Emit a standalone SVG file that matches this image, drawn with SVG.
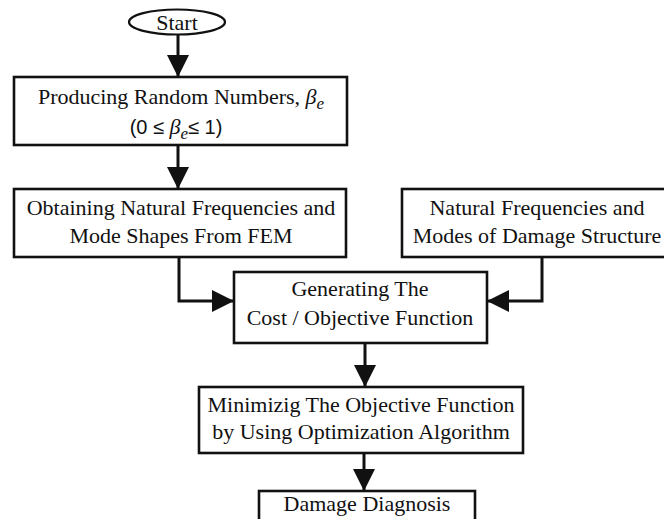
<svg xmlns="http://www.w3.org/2000/svg" width="664" height="519" viewBox="0 0 664 519">
<style>
.box{fill:#fff;stroke:#111;stroke-width:2.6}
.t{font-family:"Liberation Serif","Times New Roman",serif;font-size:22px;fill:#111;text-anchor:middle}
.s{font-family:"Liberation Sans",Arial,sans-serif}
.i{font-style:italic}
.c{fill:none;stroke:#111;stroke-width:3}
</style>
<defs>
<marker id="ah" viewBox="0 0 22 22" refX="22" refY="11" markerWidth="22" markerHeight="22" markerUnits="userSpaceOnUse" orient="auto">
<path d="M0,0 L22,11 L0,22 z" fill="#111"/>
</marker>
</defs>
<rect width="664" height="519" fill="#fff"/>
<g id="connectors">
<path class="c" d="M178,35 L178,77" marker-end="url(#ah)"/>
<path class="c" d="M178,145 L178,189" marker-end="url(#ah)"/>
<path class="c" d="M179,257 L179,301 L234,301" marker-end="url(#ah)"/>
<path class="c" d="M542,257 L542,301 L487,301" marker-end="url(#ah)"/>
<path class="c" d="M365,343 L365,387" marker-end="url(#ah)"/>
<path class="c" d="M364,453 L364,491" marker-end="url(#ah)"/>
</g>
<g id="start">
<ellipse cx="177" cy="22" rx="48" ry="12.5" fill="#fff" stroke="#111" stroke-width="2.2"/>
<text class="t" x="177" y="30">Start</text>
</g>
<g id="random">
<rect class="box" x="14" y="77" width="333" height="68"/>
<text class="t" x="181" y="104">Producing Random Numbers, <tspan class="i">β</tspan><tspan class="i" font-size="17" dy="5">e</tspan></text>
<text class="t" x="176" y="134"><tspan class="s" font-size="20">(0 ≤ </tspan><tspan class="i">β</tspan><tspan class="i" font-size="17" dy="5">e</tspan><tspan class="s" font-size="20" dy="-5">≤ 1)</tspan></text>
</g>
<g id="fem">
<rect class="box" x="14" y="189" width="332" height="68"/>
<text class="t" x="181" y="215">Obtaining Natural Frequencies and</text>
<text class="t" x="181" y="243">Mode Shapes From FEM</text>
</g>
<g id="damage-modes">
<rect class="box" x="402" y="189" width="280" height="68"/>
<text class="t" x="537" y="215">Natural Frequencies and</text>
<text class="t" x="537" y="243">Modes of Damage Structure</text>
</g>
<g id="cost">
<rect class="box" x="234" y="272" width="253" height="71"/>
<text class="t" x="360" y="296">Generating The</text>
<text class="t" x="360" y="325">Cost / Objective Function</text>
</g>
<g id="minimize">
<rect class="box" x="199" y="387" width="324" height="66"/>
<text class="t" x="361" y="412">Minimizig The Objective Function</text>
<text class="t" x="361" y="439">by Using Optimization Algorithm</text>
</g>
<g id="diagnosis">
<rect class="box" x="259" y="491" width="216" height="40"/>
<text class="t" x="367" y="511">Damage Diagnosis</text>
</g>
</svg>
